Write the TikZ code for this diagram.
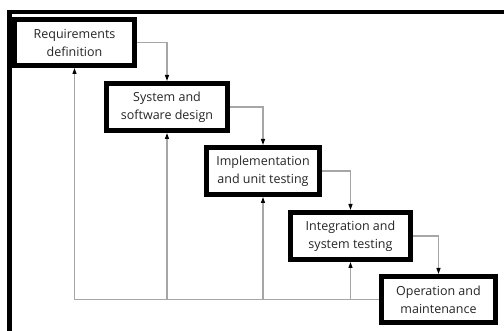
\documentclass[tikz,border=0pt]{standalone}
\usepackage{fontspec}
\setmainfont{Open Sans}
\usetikzlibrary{arrows.meta}

\begin{document}
\begin{tikzpicture}[x=1pt,y=-1pt,
  phase/.style={draw=black,line width=5pt,fill=white,outer sep=2.5pt,inner sep=0pt,
    align=center,text=black!85,font=\fontsize{12.5}{18}\selectfont},
  flow/.style={draw=black!35,line width=1.1pt,-{Triangle[black,length=6pt,width=4pt]}}]
  \path[use as bounding box] (0,0) rectangle (504,331);
  \draw[line width=4.5pt] (9.5,331) -- (9.5,12) -- (504,12);

  \node[phase,minimum width=120pt,minimum height=46pt] (req) at (74.5,42.5) {Requirements\\definition};
  \node[phase,minimum width=121pt,minimum height=47pt] (sys) at (167,107) {System and\\software design};
  \node[phase,minimum width=113pt,minimum height=47pt] (imp) at (263,171) {Implementation\\and unit testing};
  \node[phase,minimum width=120pt,minimum height=47pt] (int) at (350.5,236) {Integration and\\system testing};
  \node[phase,minimum width=114pt,minimum height=46pt] (ops) at (438.5,299.5) {Operation and\\maintenance};

  % down the steps
  \draw[flow] (req.east) -| (sys.north);
  \draw[flow] (sys.east) -| (imp.north);
  \draw[flow] (imp.east) -| (int.north);
  \draw[flow] (int.east) -| (ops.north);

  % back up
  \draw[flow] (ops.west) -- (ops.west -| req.south) -- (req.south);
  \draw[flow] (ops.west -| sys.south) -- (sys.south);
  \draw[flow] (ops.west -| imp.south) -- (imp.south);
  \draw[flow] (ops.west -| int.south) -- (int.south);
\end{tikzpicture}
\end{document}
